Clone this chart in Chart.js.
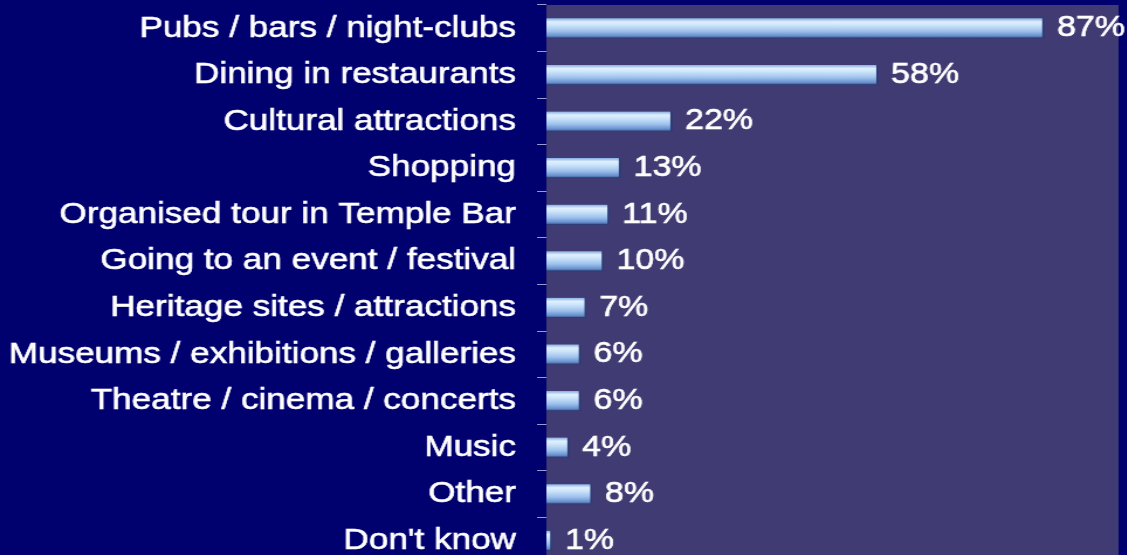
<!DOCTYPE html>
<html>
<head>
<meta charset="utf-8">
<script src="https://cdn.jsdelivr.net/npm/chart.js@4/dist/chart.umd.min.js"></script>
<style>
  html, body { margin: 0; padding: 0; background: #00006e; overflow: hidden; width: 1127px; height: 555px; }
  /* chart is laid out narrower and stretched sideways so the wide lettering fits */
  #wrap { width: 963px; height: 566px; transform: scaleX(1.17); transform-origin: 0 0; }
</style>
</head>
<body>
<div id="wrap"><canvas id="chart" width="963" height="566"></canvas></div>
<script>
/* ── Data ─────────────────────────────────────────── */
const categories = [
  "Pubs / bars / night-clubs",
  "Dining in restaurants",
  "Cultural attractions",
  "Shopping",
  "Organised tour in Temple Bar",
  "Going to an event / festival",
  "Heritage sites / attractions",
  "Museums / exhibitions / galleries",
  "Theatre / cinema / concerts",
  "Music",
  "Other",
  "Don't know"
];
const percentages = [87, 58, 22, 13, 11, 10, 7, 6, 6, 4, 8, 1];
const axisMax = 100;

const BAR_H = 20;
const FONT = "'Liberation Sans', Arial, Helvetica, sans-serif";

/* ── Plot panel fill ──────────────────────────────── */
const plotPanel = {
  id: "plotPanel",
  beforeDraw(chart) {
    const { ctx, chartArea: a } = chart;
    ctx.save();
    ctx.fillStyle = "#403c73";
    ctx.fillRect(a.left, a.top, a.right - a.left, a.bottom - a.top);
    ctx.restore();
  }
};

/* ── Percent labels after each bar ────────────────── */
const valueLabels = {
  id: "valueLabels",
  afterDatasetsDraw(chart) {
    const { ctx } = chart;
    const meta = chart.getDatasetMeta(0);
    ctx.save();
    ctx.font = "29px " + FONT;
    ctx.fillStyle = "#ffffff";
    ctx.strokeStyle = "#ffffff";
    ctx.lineWidth = 0.6;
    ctx.textAlign = "left";
    ctx.textBaseline = "middle";
    meta.data.forEach((bar, i) => {
      const txt = percentages[i] + "%";
      ctx.strokeText(txt, bar.x + 11, bar.y);
      ctx.fillText(txt, bar.x + 11, bar.y);
    });
    ctx.restore();
  }
};

/* glossy tube-like fill for each bar */
function barFill(c) {
  const ch = c.chart;
  const ys = ch.scales.y;
  if (c.type !== "data" || !ys) return "#a8c8f0";
  const yc = ys.getPixelForValue(c.dataIndex);
  if (!isFinite(yc)) return "#a8c8f0";
  const top = yc - BAR_H / 2;
  const g = ch.ctx.createLinearGradient(0, top, 0, top + BAR_H);
  g.addColorStop(0.00, "#86ace0");
  g.addColorStop(0.18, "#e0f0ff");
  g.addColorStop(0.35, "#cce4fa");
  g.addColorStop(0.65, "#9cc0ec");
  g.addColorStop(0.88, "#6890cc");
  g.addColorStop(1.00, "#34528e");
  return g;
}

new Chart(document.getElementById("chart"), {
  type: "bar",
  data: {
    labels: categories,
    datasets: [{
      data: percentages,
      backgroundColor: barFill,
      borderColor: "rgba(40,60,120,0.7)",
      borderWidth: { top: 0, bottom: 1, right: 2, left: 0 },
      borderSkipped: "start",
      barThickness: BAR_H
    }]
  },
  options: {
    indexAxis: "y",
    responsive: false,
    animation: false,
    layout: { padding: { top: 5, right: 7, bottom: 2, left: 0 } },
    plugins: {
      legend: { display: false },
      tooltip: { enabled: false }
    },
    scales: {
      x: {
        display: false,
        min: 0,
        max: axisMax
      },
      y: {
        afterFit: s => {
          s.width = 467;
          s.paddingTop = 0;
          s.paddingBottom = 0;
        },
        border: { display: false },
        grid: {
          drawOnChartArea: false,
          drawTicks: true,
          tickLength: 8,
          color: "#9a9ad0"
        },
        ticks: {
          autoSkip: false,
          color: "#ffffff",
          textStrokeColor: "#ffffff",
          textStrokeWidth: 0.6,
          padding: 18,
          font: { family: FONT, size: 30 }
        }
      }
    }
  },
  plugins: [plotPanel, valueLabels]
});
</script>
</body>
</html>
